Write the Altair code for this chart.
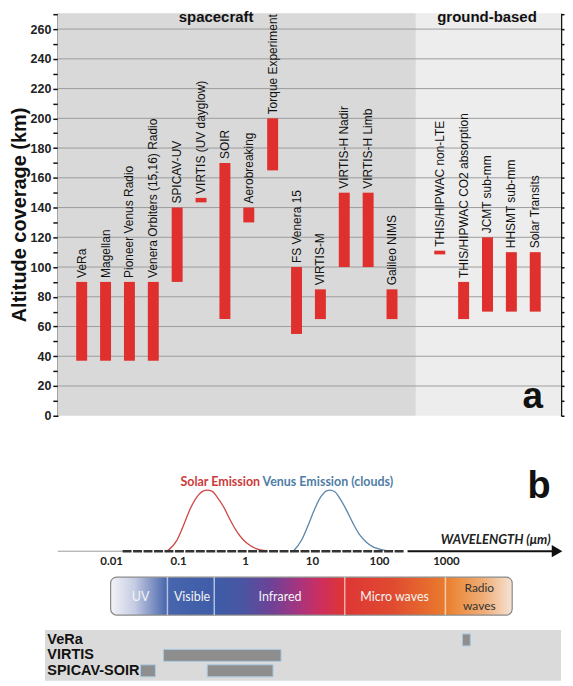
import altair as alt
import pandas as pd

# ---------------- panel a : altitude coverage ----------------
names = ["VeRa", "Magellan", "Pioneer Venus Radio", "Venera Orbiters (15,16) Radio",
         "SPICAV-UV", "VIRTIS (UV dayglow)", "SOIR", "Aerobreaking", "Torque Experiment",
         "FS Venera 15", "VIRTIS-M", "VIRTIS-H Nadir", "VIRTIS-H Limb", "Galileo NIMS",
         "THIS/HIPWAC non-LTE", "THIS/HIPWAC CO2 absorption", "JCMT sub-mm",
         "HHSMT sub-mm", "Solar Transits"]
slots = [0, 1, 2, 3, 4, 5, 6, 7, 8, 9, 10, 11, 12, 13, 15, 16, 17, 18, 19]
alt_low = [37, 37, 37, 37, 90, 143.5, 65, 130, 165, 55, 65, 100, 100, 65, 108.5, 65, 70, 70, 70]
alt_high = [90, 90, 90, 90, 140, 146.5, 170, 140, 200, 100, 85, 150, 150, 85, 111, 90, 120, 110, 110]

region_names = ["spacecraft", "ground-based"]
region_start = [-1, 14]
region_end = [14, 20.08]
region_bottom = [0, 0]
region_top = [270.7, 270.7]
region_label_x = [5.63, 16.98]
region_label_y = [264.7, 264.7]

axis_ticks = list(range(0, 271, 10))
grid_values = list(range(20, 261, 20))

# ---------------- panel b : spectrum ----------------
solar_wl = [0.0674, 0.095, 0.119, 0.150, 0.1885, 0.2363, 0.2655, 0.315, 0.374, 0.469,
            0.590, 0.742, 0.931, 1.171, 1.473, 1.957]
solar_int = [0.0, 0.184, 0.429, 0.701, 0.892, 0.990, 1.0, 0.984, 0.892, 0.729,
             0.511, 0.321, 0.184, 0.093, 0.038, 0.011]
venus_wl = [5.16, 6.88, 8.63, 10.86, 13.66, 16.21, 18.15, 21.54, 25.57, 32.17,
            40.34, 50.74, 63.85, 80.07, 100.7, 126.7]
venus_int = [0.0, 0.184, 0.429, 0.701, 0.909, 0.990, 1.0, 0.974, 0.865, 0.674,
             0.457, 0.266, 0.147, 0.070, 0.033, 0.011]

tick_values = [0.01, 0.1, 1, 10, 100, 1000]
tick_text = ["0.01", "0.1", "1", "10", "100", "1000"]

band_names = ["UV", "Visible", "Infrared", "Micro waves"]
band_label_x = [0.027, 0.159, 3.27, 168]
band_bounds = [0.0681, 0.341, 30.3, 966]
radio_text = ["Radio", "waves"]

cov_instr = ["VeRa", "VIRTIS", "SPICAV-SOIR", "SPICAV-SOIR"]
cov_lo = [1730, 0.0594, 0.027, 0.268]
cov_hi = [2276, 3.39, 0.0451, 2.575]
cov_order = ["VeRa", "VIRTIS", "SPICAV-SOIR"]

W = 505
ARIAL = "Liberation Sans"
CAL = "Lato"
RED = "#e0302d"

# ================= panel a =================
XA = alt.Scale(domain=[-1, 20.08], nice=False, zero=False, padding=0)
YA = alt.Scale(domain=[0, 270.7], nice=False, zero=False)
inst = pd.DataFrame({"name": names, "slot": slots, "lo": alt_low, "hi": alt_high})
reg = pd.DataFrame({"region": region_names, "start": region_start, "end": region_end,
                    "b": region_bottom, "t": region_top,
                    "lx": region_label_x, "ly": region_label_y})
grid_df = pd.DataFrame({"v": grid_values})

bg = alt.Chart(reg).mark_rect().encode(
    x=alt.X("start:Q", scale=XA, axis=None), x2="end:Q",
    y=alt.Y("b:Q", scale=YA, axis=None), y2="t:Q",
    color=alt.Color("region:N", scale=alt.Scale(domain=region_names, range=["#d9d9d9", "#ededed"]),
                    legend=None))
grid = alt.Chart(grid_df).mark_rule(color="#9d9d9d", strokeWidth=1).encode(
    y=alt.Y("v:Q", scale=YA, axis=alt.Axis(
        orient="right", values=axis_ticks, labels=False, title=None, grid=False,
        domainColor="#111", domainWidth=1.5, tickColor="#111", tickWidth=1.5, tickSize=3)))
bars = alt.Chart(inst).mark_bar(size=11, color=RED).encode(
    x=alt.X("slot:Q", scale=XA, axis=alt.Axis(title=None, labels=False, ticks=False, grid=False,
                                              domainColor="#111", domainWidth=2)),
    y=alt.Y("lo:Q", scale=YA, axis=alt.Axis(
        values=axis_ticks, labelExpr="datum.value % 20 === 0 ? datum.label : ''",
        title="Altitude coverage (km)", grid=False, domainColor="#111", domainWidth=1.5,
        tickColor="#111", tickWidth=1.5, tickSize=5, labelPadding=2, labelFont=ARIAL,
        labelFontSize=12.5, labelFontWeight="bold", labelColor="#222", titleFont=ARIAL,
        titleFontSize=20, titleFontWeight="bold", titleColor="#111", titlePadding=1)),
    y2="hi:Q")
labels = alt.Chart(inst).mark_text(angle=270, align="left", baseline="middle", dx=4,
                                   font=ARIAL, fontSize=12, color="#111").encode(
    x=alt.X("slot:Q", scale=XA, axis=None), y=alt.Y("hi:Q", scale=YA, axis=None), text="name:N")
reg_text = alt.Chart(reg).mark_text(font=ARIAL, fontSize=15, fontWeight="bold",
                                    baseline="alphabetic", color="#111").encode(
    x=alt.X("lx:Q", scale=XA, axis=None), y=alt.Y("ly:Q", scale=YA, axis=None), text="region:N")
tag_a = alt.Chart(pd.DataFrame({"t": ["a"], "x": [18.9], "y": [5.4]})).mark_text(
    font=ARIAL, fontSize=37, fontWeight="bold", baseline="alphabetic", color="#111").encode(
    x=alt.X("x:Q", scale=XA, axis=None), y=alt.Y("y:Q", scale=YA, axis=None), text="t:N")

panel_a = alt.layer(bg, grid, bars, labels, reg_text, tag_a).resolve_scale(
    y="independent").properties(width=W, height=404)

# ================= panel b: emission curves =================
XB = alt.Scale(type="log", domain=[0.01, 1000], range=[54, 390], nice=False)
YB = alt.Scale(domain=[-0.36, 2.22], nice=False, zero=False)


def xb(f):
    return alt.X(f + ":Q", scale=XB, axis=None)


def yb(f):
    return alt.Y(f + ":Q", scale=YB, axis=None)


solar_df = pd.DataFrame({"wl": solar_wl, "v": solar_int})
venus_df = pd.DataFrame({"wl": venus_wl, "v": venus_int})
solar = alt.Chart(solar_df).mark_line(color="#cf4545", strokeWidth=1.3, interpolate="monotone").encode(
    x=xb("wl"), y=yb("v"))
venus = alt.Chart(venus_df).mark_line(color="#5a86ab", strokeWidth=1.3, interpolate="monotone").encode(
    x=xb("wl"), y=yb("v"))
ax_thin = alt.Chart(pd.DataFrame({"a": [0.00157], "b": [0.01458], "v": [0]})).mark_rule(
    color="#9a9a9a", strokeWidth=1).encode(x=xb("a"), x2="b:Q", y=yb("v"))
ax_dash = alt.Chart(pd.DataFrame({"a": [0.01458], "b": [237], "v": [0]})).mark_rule(
    color="#333", strokeWidth=2.5, strokeDash=[9, 1.5]).encode(x=xb("a"), x2="b:Q", y=yb("v"))
ax_solid = alt.Chart(pd.DataFrame({"a": [262.8], "b": [40000], "v": [0]})).mark_rule(
    color="#111", strokeWidth=2).encode(x=xb("a"), x2="b:Q", y=yb("v"))
arrow = alt.Chart(pd.DataFrame({"a": [44900], "v": [0]})).mark_point(
    shape="triangle-right", filled=True, size=150, color="#111", opacity=1).encode(x=xb("a"), y=yb("v"))
tick_lab = alt.Chart(pd.DataFrame({"a": tick_values, "t": tick_text, "v": [-0.18] * 6})).mark_text(
    font=CAL, fontSize=11.5, fontWeight="bold", color="#222").encode(x=xb("a"), y=yb("v"), text="t:N")
solar_title = alt.Chart(pd.DataFrame({"a": [0.419], "v": [1.142], "t": ["Solar Emission"]})).mark_text(
    font=CAL, fontSize=12.5, fontWeight="bold", color="#cc3b3b").encode(x=xb("a"), y=yb("v"), text="t:N")
venus_title = alt.Chart(pd.DataFrame({"a": [16.95], "v": [1.142], "t": ["Venus Emission (clouds)"]})).mark_text(
    font=CAL, fontSize=12.5, fontWeight="bold", color="#4f7da6").encode(x=xb("a"), y=yb("v"), text="t:N")
wave_lab = alt.Chart(pd.DataFrame({"a": [5453], "v": [0.18], "t": ["WAVELENGTH (μm)"]})).mark_text(
    font=CAL, fontSize=13, fontWeight="bold", fontStyle="italic", color="#222").encode(
    x=xb("a"), y=yb("v"), text="t:N")
tag_b = alt.Chart(pd.DataFrame({"a": [24200], "v": [0.865], "t": ["b"]})).mark_text(
    font=ARIAL, fontSize=38, fontWeight="bold", baseline="alphabetic", color="#111").encode(
    x=xb("a"), y=yb("v"), text="t:N")

curves = alt.layer(solar, venus, ax_thin, ax_dash, ax_solid, arrow, tick_lab, solar_title,
                   venus_title, wave_lab, tag_b).properties(width=W, height=158)

# ================= panel b: spectrum band =================
YS = alt.Scale(domain=[0, 1], nice=False, zero=False)
grad = {"gradient": "linear", "x1": 0, "x2": 1, "y1": 0, "y2": 0, "stops": [
    {"offset": 0.0, "color": "#f3f3f7"},
    {"offset": 0.06, "color": "#c5cbe2"},
    {"offset": 0.14, "color": "#4866ad"},
    {"offset": 0.26, "color": "#3e5ca8"},
    {"offset": 0.33, "color": "#4a55a2"},
    {"offset": 0.40, "color": "#6e4296"},
    {"offset": 0.47, "color": "#a8347e"},
    {"offset": 0.52, "color": "#cc2e60"},
    {"offset": 0.58, "color": "#de3535"},
    {"offset": 0.70, "color": "#e04a30"},
    {"offset": 0.83, "color": "#e97a2d"},
    {"offset": 0.86, "color": "#ec8c3e"},
    {"offset": 0.93, "color": "#efae78"},
    {"offset": 1.0, "color": "#f6e3d4"}]}
band = alt.Chart(pd.DataFrame({"a": [0.00966], "b": [9600], "lo": [0.263], "hi": [0.93]})).mark_rect(
    fill=grad, cornerRadius=6, stroke="#8a8a8a", strokeWidth=1.2).encode(
    x=xb("a"), x2="b:Q", y=alt.Y("lo:Q", scale=YS, axis=None), y2="hi:Q")
seps = alt.Chart(pd.DataFrame({"a": band_bounds, "lo": [0.263] * 4, "hi": [0.93] * 4})).mark_rule(
    color="white", strokeWidth=1.5, opacity=0.6).encode(
    x=xb("a"), y=alt.Y("lo:Q", scale=YS, axis=None), y2="hi:Q")
band_lab = alt.Chart(pd.DataFrame({"a": band_label_x, "t": band_names, "v": [0.579] * 4})).mark_text(
    font=CAL, fontSize=12.5, color="#f4f4f4").encode(
    x=xb("a"), y=alt.Y("v:Q", scale=YS, axis=None), text="t:N")
radio_lab = alt.Chart(pd.DataFrame({"a": [3100, 3100], "t": radio_text, "v": [0.737, 0.416]})).mark_text(
    font=CAL, fontSize=12, color="#333").encode(
    x=xb("a"), y=alt.Y("v:Q", scale=YS, axis=None), text="t:N")
spectrum = alt.layer(band, seps, band_lab, radio_lab).properties(width=W, height=57)

# ================= panel b: instrument coverage =================
cov = pd.DataFrame({"instr": cov_instr, "a": cov_lo, "b": cov_hi})
YI = alt.Scale(domain=cov_order, paddingInner=0.226, paddingOuter=0.258)
box = alt.Chart(pd.DataFrame({"a": [0.00101], "b": [51400]})).mark_rect(color="#dadada").encode(
    x=xb("a"), x2="b:Q")
cov_bars = alt.Chart(cov).mark_bar(color="#8e8e8e", stroke="#a9cbe3", strokeWidth=1).encode(
    x=xb("a"), x2="b:Q",
    y=alt.Y("instr:N", scale=YI,
            axis=alt.Axis(title=None, domain=False, ticks=False, labelAlign="left", zindex=1,
                          labelPadding=11, labelFont="'Liberation Sans Narrow', 'Liberation Sans', sans-serif",
                          labelFontSize=14.5, labelFontWeight="bold", labelColor="#111")))
instr = alt.layer(box, cov_bars).properties(width=W, height=51)

chart = alt.vconcat(panel_a, curves, spectrum, instr, spacing=0, bounds="flush").properties(
    padding={"left": 1, "top": 0, "right": 0, "bottom": 0}).configure_view(stroke=None)

chart.save("out.html", embed_options={"renderer": "svg", "actions": False})
